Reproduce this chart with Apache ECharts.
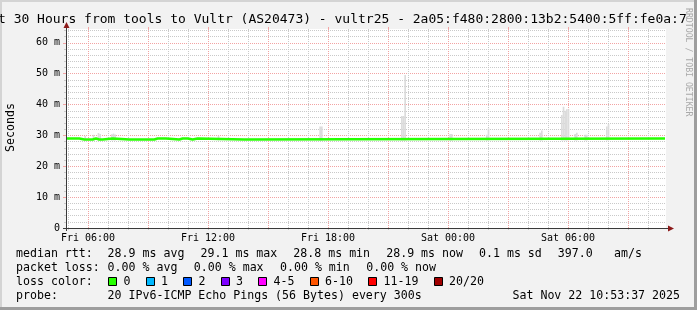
<!DOCTYPE html>
<html><head><meta charset="utf-8">
<script src="https://cdn.jsdelivr.net/npm/echarts@6/dist/echarts.min.js"></script>
<style>html,body{margin:0;padding:0;background:#f2f2f2;}#c{width:697px;height:310px;}</style>
</head><body><div id="c"></div>
<script>
// ---------------- data ----------------
const titleText = 'Last 30 Hours from tools to Vultr (AS20473) - vultr25 - 2a05:f480:2800:13b2:5400:5ff:fe0a:7';
const yAxisTitle = 'Seconds';
const watermark = 'RRDTOOL / TOBI OETIKER';
const dayNames = ['Fri', 'Sat'];
const startMinuteOfDay = 4 * 60 + 54;   // Fri 04:54
const spanMinutes = 1800;               // 30 hours
const xTickLabels = ['Fri 06:00', 'Fri 12:00', 'Fri 18:00', 'Sat 00:00', 'Sat 06:00'];
const yMajorMax = 60, yMajorStep = 10, yMinorMax = 64, yMinorStep = 2, yMax = 64.5;

// median rtt (ms) runs: minute offset from start, value
const medianMinute = [0, 20, 25, 40, 55, 60, 80, 90, 100, 105, 110, 140, 190, 195, 245, 250, 265, 275, 280, 300, 340, 350, 355, 365, 380, 395, 535, 1797];
const medianValue  = [29.0, 28.7, 29.0, 28.7, 29.0, 28.7, 29.0, 28.7, 29.0, 28.7, 29.0, 28.7, 29.0, 28.7, 29.0, 28.7, 29.0, 28.7, 29.0, 28.7, 29.0, 28.7, 29.0, 28.7, 29.0, 28.7, 29.0, 29.0];

// smoke (spread of pings) per 5-minute step: start minute, low, high (ms)
const smokeMinute = [55, 80, 95, 100, 135, 140, 145, 455, 760, 765, 1005, 1010, 1015, 1150, 1155, 1260, 1265, 1420, 1425, 1485, 1490, 1495, 1500, 1505, 1525, 1530, 1555, 1560, 1620, 1625];
const smokeHigh   = [29.8, 30.2, 30.8, 30.5, 30.4, 30.6, 30.3, 29.9, 32.9, 32.9, 36.3, 36.3, 49.6, 30.5, 30.5, 30.2, 32.3, 30.9, 31.6, 36.6, 39.3, 38.0, 38.5, 38.5, 30.5, 30.9, 30.2, 30.2, 32.9, 33.7];
const smokeLowVal = 28.4;
const smokeStepMinutes = 5;

const rttLabel = 'median rtt:';
const rttStats = ['28.9 ms avg', '29.1 ms max', '28.8 ms min', '28.9 ms now', '0.1 ms sd', '397.0', 'am/s'];
const lossLabel = 'packet loss:';
const lossStats = ['0.00 % avg', '0.00 % max', '0.00 % min', '0.00 % now'];
const lossColorLabel = 'loss color:';
const lossLabels = ['0', '1', '2', '3', '4-5', '6-10', '11-19', '20/20'];
const lossColors = ['#26ff00', '#00b8ff', '#0059ff', '#7e00ff', '#ff00ff', '#ff5500', '#ff0000', '#a00000'];
const probeLabel = 'probe:';
const probeText = '20 IPv6-ICMP Echo Pings (56 Bytes) every 300s';
const dateText = 'Sat Nov 22 10:53:37 2025';

// ---------------- layout / style ----------------
const MONO = "'DejaVu Sans Mono', monospace";
const GL = 66, GW = 600, AXIS_Y = 228;
const K = 199 / yMax;  // px per ms
const GRAY = '#c9c9c9', RED = '#f2a3a3', AXIS = '#3a3a3a', ARROW = '#8c1a1a', SMOKE = '#dcdcdc';
const legendX = 16, valueX0 = 107.6;
const rttX = [107.6, 200.5, 293.3, 386.2, 479, 557.8, 614];
const lossX = [107.6, 193.8, 280, 366.2];
const lineY = [253.6, 267.6, 281.6, 295.6];
const LFONT = 11.6;

function pad(n) { return (n < 10 ? '0' : '') + n; }
const categories = [];
for (let m = 0; m <= spanMinutes; m++) {
  const t = startMinuteOfDay + m;
  categories.push(dayNames[Math.floor(t / 1440)] + ' ' + pad(Math.floor((t % 1440) / 60)) + ':' + pad(t % 60));
}
const hourFn = (i, v) => v.slice(-2) === '00';
const threeHourFn = (i, v) => v.slice(-2) === '00' && (parseInt(v.slice(4, 6), 10) % 3 === 0);
const labelFn = (i, v) => xTickLabels.indexOf(v) >= 0;

const graphics = [];
function txt(x, y, s, opts) {
  graphics.push(Object.assign({ type: 'text', x: x, y: y, silent: true,
    style: Object.assign({ text: s, font: LFONT + 'px ' + MONO, fill: '#000', textAlign: 'left', textVerticalAlign: 'middle' }, (opts && opts.style) || {}) },
    opts && opts.rotation !== undefined ? { rotation: opts.rotation } : {}));
}
// borders
graphics.push({ type: 'rect', shape: { x: 0, y: 0, width: 697, height: 2 }, style: { fill: '#d4d4d4' }, silent: true });
graphics.push({ type: 'rect', shape: { x: 0, y: 0, width: 2, height: 310 }, style: { fill: '#d4d4d4' }, silent: true });
graphics.push({ type: 'rect', shape: { x: 694, y: 0, width: 3, height: 310 }, style: { fill: '#9e9e9e' }, silent: true });
graphics.push({ type: 'rect', shape: { x: 0, y: 307, width: 697, height: 3 }, style: { fill: '#9e9e9e' }, silent: true });
// title
txt(-25.5, 19.5, titleText, { style: { font: '13px ' + MONO } });
// watermark
txt(688.5, 8, watermark, { rotation: -Math.PI / 2, style: { font: '8.2px ' + MONO, fill: '#a9a9a9' } });
// y title
txt(11, 127.5, yAxisTitle, { rotation: Math.PI / 2, style: { textAlign: 'center' } });
// axis extensions and arrows
graphics.push({ type: 'line', shape: { x1: 66.5, y1: 24, x2: 66.5, y2: 231 }, style: { stroke: AXIS, lineWidth: 1 }, silent: true, z: 10 });
graphics.push({ type: 'line', shape: { x1: 63, y1: 228.5, x2: 670, y2: 228.5 }, style: { stroke: AXIS, lineWidth: 1 }, silent: true, z: 10 });
graphics.push({ type: 'polygon', shape: { points: [[66.5, 22], [63.5, 28], [69.5, 28]] }, style: { fill: ARROW }, silent: true, z: 11 });
graphics.push({ type: 'polygon', shape: { points: [[674, 228.5], [668, 225.5], [668, 231.5]] }, style: { fill: ARROW }, silent: true, z: 11 });
// legend lines
txt(legendX, lineY[0], rttLabel);
rttStats.forEach((s, i) => txt(rttX[i], lineY[0], s));
txt(legendX, lineY[1], lossLabel);
lossStats.forEach((s, i) => txt(lossX[i], lineY[1], s));
txt(legendX, lineY[2], lossColorLabel);
let bx = 108;
lossLabels.forEach((s, i) => {
  graphics.push({ type: 'rect', shape: { x: Math.round(bx) + 0.5, y: 277.5, width: 8, height: 8 }, style: { fill: lossColors[i], stroke: '#000', lineWidth: 1 }, silent: true });
  txt(bx + 15.5, lineY[2], s);
  bx = bx + 15.5 + s.length * 7 + 15;
});
txt(legendX, lineY[3], probeLabel);
txt(valueX0, lineY[3], probeText);
txt(680, lineY[3], dateText, { style: { textAlign: 'right' } });

const option = {
  animation: false,
  backgroundColor: '#f2f2f2',
  grid: [
    { left: GL, top: AXIS_Y - yMax * K, width: GW, height: yMax * K, show: true, backgroundColor: '#ffffff', borderWidth: 0 },
    { left: GL, top: AXIS_Y - yMinorMax * K, width: GW, height: yMinorMax * K },
    { left: GL, top: AXIS_Y - yMajorMax * K, width: GW, height: yMajorMax * K }
  ],
  xAxis: [
    { gridIndex: 0, type: 'category', data: categories, boundaryGap: false,
      axisLine: { show: false },
      axisTick: { show: true, length: 2, interval: hourFn, lineStyle: { color: GRAY } },
      axisLabel: { interval: labelFn, fontSize: 10, fontFamily: MONO, color: '#000', margin: 5 },
      splitLine: { show: true, interval: hourFn, lineStyle: { color: GRAY, type: [1, 1], width: 1 } } },
    { gridIndex: 0, type: 'category', data: categories, boundaryGap: false,
      axisLine: { show: false },
      axisTick: { show: true, length: 2, interval: threeHourFn, lineStyle: { color: RED } },
      axisLabel: { show: false },
      splitLine: { show: true, interval: threeHourFn, lineStyle: { color: RED, type: [1, 1], width: 1 } } },
    { gridIndex: 1, type: 'value', show: false },
    { gridIndex: 2, type: 'value', show: false }
  ],
  yAxis: [
    { gridIndex: 0, type: 'value', min: 0, max: yMax, axisLine: { show: false }, axisTick: { show: false }, axisLabel: { show: false }, splitLine: { show: false } },
    { gridIndex: 1, type: 'value', min: 0, max: yMinorMax, interval: yMinorStep,
      axisLine: { show: false }, axisTick: { show: true, length: 2, lineStyle: { color: GRAY } }, axisLabel: { show: false },
      splitLine: { show: true, lineStyle: { color: GRAY, type: [1, 1], width: 1 } } },
    { gridIndex: 2, type: 'value', min: 0, max: yMajorMax, interval: yMajorStep,
      axisLine: { show: false }, axisTick: { show: true, length: 3, lineStyle: { color: RED } },
      axisLabel: { fontSize: 10, fontFamily: MONO, color: '#000', margin: 6, formatter: v => v === 0 ? '0' : v + ' m' },
      splitLine: { show: true, lineStyle: { color: RED, type: [1, 1], width: 1 } } }
  ],
  series: [
    { type: 'custom', xAxisIndex: 0, yAxisIndex: 0, silent: true, z: 2,
      data: smokeMinute.map((m, i) => [m, smokeLowVal, smokeHigh[i]]),
      renderItem: function (params, api) {
        const m = api.value(0);
        const p0 = api.coord([m, api.value(2)]);
        const p1 = api.coord([m + smokeStepMinutes, api.value(1)]);
        return { type: 'rect', shape: { x: p0[0], y: p0[1], width: p1[0] - p0[0], height: p1[1] - p0[1] }, style: { fill: SMOKE } };
      } },
    { type: 'line', xAxisIndex: 0, yAxisIndex: 0, step: 'end', symbol: 'none', silent: true, z: 3,
      data: medianMinute.map((m, i) => [m, medianValue[i]]),
      lineStyle: { color: '#26ff00', width: 2.5 } }
  ],
  graphic: { elements: graphics }
};
const chart = echarts.init(document.getElementById('c'), null, { renderer: 'canvas', width: 697, height: 310 });
chart.setOption(option);
</script>
</body></html>
